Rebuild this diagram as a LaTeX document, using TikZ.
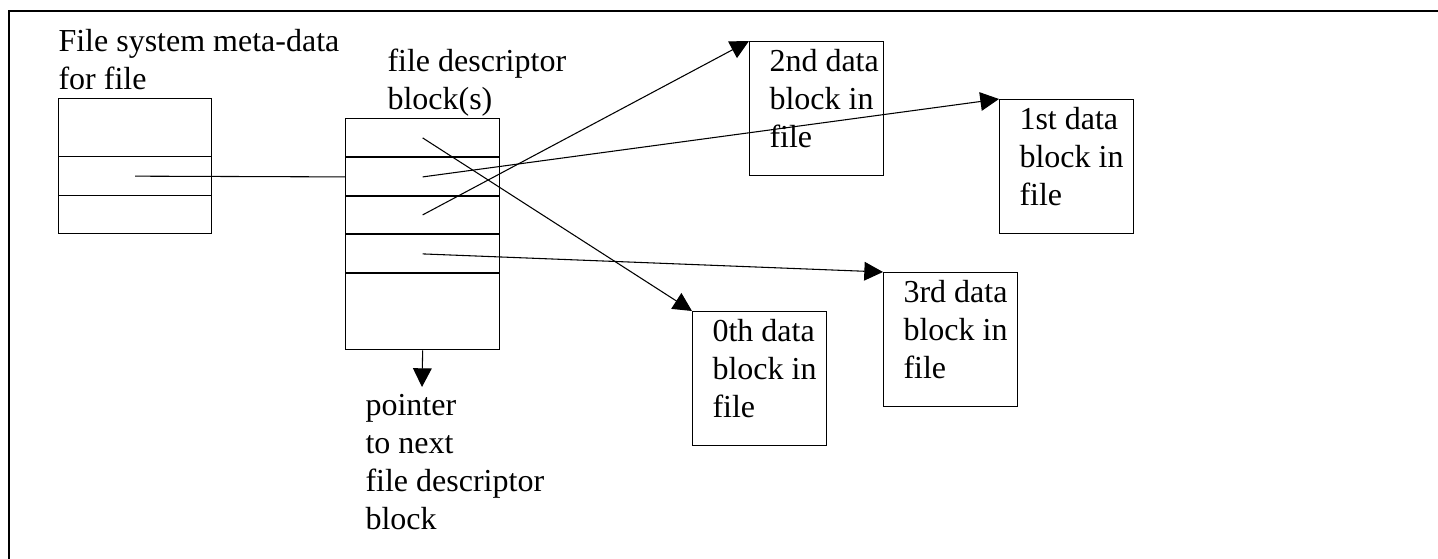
\documentclass[tikz,border=0pt]{standalone}
\usepackage{fontspec}
\setmainfont{Liberation Serif}
\usetikzlibrary{arrows.meta,calc}

\begin{document}
\begin{tikzpicture}[x=0.375pt, y=-0.375pt,
    every node/.style={font=\fontsize{12}{14.25}\selectfont},
    cell/.style={draw, line width=0.5pt, minimum width=153*0.375pt, inner sep=0pt, anchor=north west},
    datablk/.style={draw, line width=0.5pt, minimum width=134*0.375pt, minimum height=134*0.375pt, inner sep=0pt, anchor=north west},
    txt/.style={anchor=north west, inner sep=0pt, align=left},
    ptr/.style={-{Triangle[length=7pt,width=7pt]}, line width=0.4pt}]
        \useasboundingbox (0,0) rectangle (1438,559);

        % frame
        \draw[line width=1.1pt] (9,559) -- (9,11) -- (1438,11);

        % meta-data record
        \node[cell, minimum height=58*0.375pt] (meta1) at (58,98) {};
        \node[cell, minimum height=39*0.375pt] (meta2) at (58,156) {};
        \node[cell, minimum height=38*0.375pt] (meta3) at (58,195) {};
        \node[txt] (metalbl) at (58,29) {File system meta-data\\for file};

        % file descriptor block
        \foreach \i/\y in {1/118,2/157,3/195,4/234}
            \node[cell, minimum width=154*0.375pt, minimum height=38.5*0.375pt] (fd\i) at (345,\y) {};
        \node[cell, minimum width=154*0.375pt, minimum height=77*0.375pt] (fd5) at (345,272) {};
        \node[txt] (fdlbl) at (387,48) {file descriptor\\block(s)};

        % data blocks
        \node[datablk] (blk0) at (692,311) {};
        \node[datablk] (blk1) at (999,99) {};
        \node[datablk] (blk2) at (749,41) {};
        \node[datablk] (blk3) at (883,272) {};
        \node[txt] (lbl0) at ($(blk0.north west)+(20,8)$) {0th data\\block in\\file};
        \node[txt] (lbl1) at ($(blk1.north west)+(20,8)$) {1st data\\block in\\file};
        \node[txt] (lbl2) at ($(blk2.north west)+(20,8)$) {2nd data\\block in\\file};
        \node[txt] (lbl3) at ($(blk3.north west)+(20,8)$) {3rd data\\block in\\file};

        % pointers
        \draw[line width=0.4pt] (meta2.center) -- (fd2.west);
        \draw[ptr] (fd1.center) -- (blk0.north west);
        \draw[ptr] (fd2.center) -- (blk1.north west);
        \draw[ptr] (fd3.center) -- (blk2.north west);
        \draw[ptr] (fd4.center) -- (blk3.north west);

        % next descriptor block
        \coordinate (next) at (422,387);
        \draw[ptr] (fd5.south) -- (next);
        \node[txt] (nextlbl) at (365,394) {pointer\\to next\\file descriptor\\block};
    \end{tikzpicture}
\end{document}
